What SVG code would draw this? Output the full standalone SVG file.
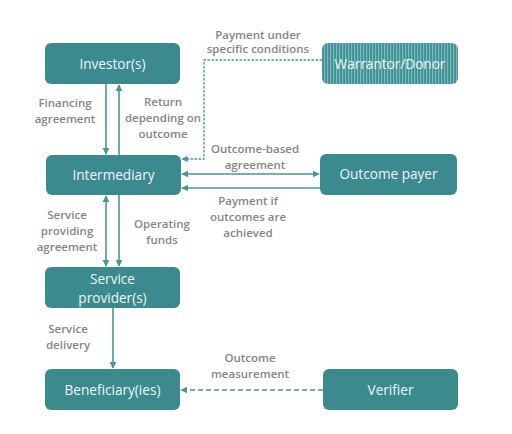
<svg xmlns="http://www.w3.org/2000/svg" width="512" height="434" viewBox="0 0 512 434">
<style>
.node{fill:#3b8a8e;}
.nt{font-family:"Open Sans","Liberation Sans",sans-serif;font-size:13.6px;fill:#eef6f6;text-anchor:middle;}
.lb{font-family:"Open Sans","Liberation Sans",sans-serif;font-size:11.5px;font-weight:600;fill:#858585;text-anchor:middle;}
.ln{stroke:#4a9599;stroke-width:1.6;fill:none;}
.ds{stroke:#4a9599;stroke-width:1.4;fill:none;stroke-dasharray:2.5 1.5;}
.dl{stroke:#4a9599;stroke-width:1.6;fill:none;stroke-dasharray:5 3;}
</style>
<defs>
<marker id="ah" viewBox="0 0 10 10" refX="9" refY="5" markerWidth="4.5" markerHeight="4.5" orient="auto-start-reverse">
<path d="M0,0 L10,5 L0,10 z" fill="#4a9599"/>
</marker>
<pattern id="stripe" width="3" height="4" patternUnits="userSpaceOnUse">
<rect width="3" height="4" fill="#3f9094"/>
<rect width="1.2" height="4" fill="#7bb9bb"/>
</pattern>
</defs>
<rect width="512" height="434" fill="#ffffff"/>
<g id="connectors">
<line class="ln" x1="106" y1="84" x2="106" y2="154" marker-end="url(#ah)"/>
<line class="ln" x1="119" y1="155" x2="119" y2="85" marker-end="url(#ah)"/>
<polyline class="ds" points="322,60 204,60 204,159 182,159" marker-end="url(#ah)"/>
<line class="ln" x1="182" y1="174" x2="319" y2="174" marker-start="url(#ah)" marker-end="url(#ah)"/>
<line class="ln" x1="320" y1="188" x2="182" y2="188" marker-end="url(#ah)"/>
<line class="ln" x1="106" y1="196" x2="106" y2="266" marker-start="url(#ah)" marker-end="url(#ah)"/>
<line class="ln" x1="119" y1="195" x2="119" y2="266" marker-end="url(#ah)"/>
<line class="ln" x1="113" y1="308" x2="113" y2="368" marker-end="url(#ah)"/>
<line class="dl" x1="323" y1="390" x2="181" y2="390" marker-end="url(#ah)"/>
</g>
<g id="investor">
<rect class="node" x="45" y="43" width="135" height="41" rx="6"/>
<text class="nt" x="112.5" y="68.5">Investor(s)</text>
</g>
<g id="warrantor">
<rect x="322" y="43" width="136" height="41" rx="6" fill="url(#stripe)"/>
<text class="nt" x="390" y="68.5">Warrantor/Donor</text>
</g>
<g id="intermediary">
<rect class="node" x="46" y="155" width="135" height="40" rx="6"/>
<text class="nt" x="113.5" y="179.5">Intermediary</text>
</g>
<g id="outcome-payer">
<rect class="node" x="320" y="154" width="137" height="41" rx="6"/>
<text class="nt" x="388.5" y="179">Outcome payer</text>
</g>
<g id="service-provider">
<rect class="node" x="45" y="267" width="135" height="41" rx="6"/>
<text class="nt" x="112.5" y="283.5">Service</text>
<text class="nt" x="112.5" y="303">provider(s)</text>
</g>
<g id="beneficiary">
<rect class="node" x="45" y="369" width="135" height="41" rx="6"/>
<text class="nt" x="112.5" y="394.5">Beneficiary(ies)</text>
</g>
<g id="verifier">
<rect class="node" x="323" y="369" width="135" height="41" rx="6"/>
<text class="nt" x="390.5" y="394.5">Verifier</text>
</g>
<g id="labels">
<text class="lb" x="65" y="107">Financing</text>
<text class="lb" x="65" y="123">agreement</text>
<text class="lb" x="163" y="106">Return</text>
<text class="lb" x="163" y="122">depending on</text>
<text class="lb" x="163" y="138">outcome</text>
<text class="lb" x="258" y="39">Payment under</text>
<text class="lb" x="258" y="53">specific conditions</text>
<text class="lb" x="255" y="153">Outcome-based</text>
<text class="lb" x="255" y="169">agreement</text>
<text class="lb" x="248" y="205">Payment if</text>
<text class="lb" x="248" y="221">outcomes are</text>
<text class="lb" x="248" y="237">achieved</text>
<text class="lb" x="67" y="219">Service</text>
<text class="lb" x="67" y="235">providing</text>
<text class="lb" x="67" y="251">agreement</text>
<text class="lb" x="162" y="228">Operating</text>
<text class="lb" x="162" y="244">funds</text>
<text class="lb" x="68" y="333">Service</text>
<text class="lb" x="68" y="349">delivery</text>
<text class="lb" x="250" y="362">Outcome</text>
<text class="lb" x="250" y="378">measurement</text>
</g>
</svg>
